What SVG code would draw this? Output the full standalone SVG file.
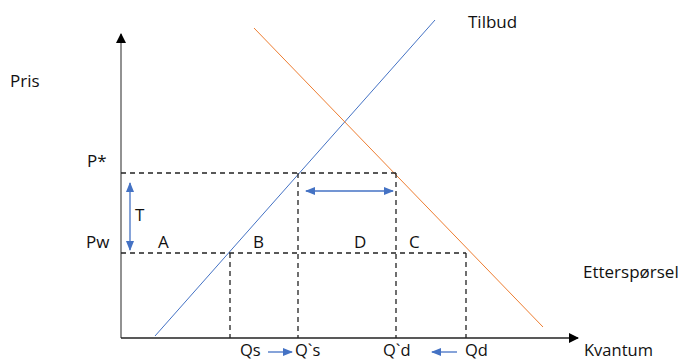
<svg xmlns="http://www.w3.org/2000/svg" width="688" height="362" viewBox="0 0 688 362">
<defs>
<marker id="ah" markerWidth="10" markerHeight="12" refX="9" refY="6" orient="auto" markerUnits="userSpaceOnUse"><path d="M0,1 L10,6 L0,11 Z" fill="#000"/></marker>
<marker id="bh" markerWidth="10" markerHeight="8" refX="9" refY="4" orient="auto-start-reverse" markerUnits="userSpaceOnUse"><path d="M0,0 L10,4 L0,8 Z" fill="#4472C4"/></marker>
<style>
text{font-family:"Open Sans","Liberation Sans",sans-serif;font-size:17px;fill:#111}
.s{font-size:16.5px}
.d{stroke:#222;stroke-width:1.3;stroke-dasharray:5,4;fill:none}
.b{stroke:#4472C4;stroke-width:1.3;fill:none}
</style>
</defs>
<rect width="688" height="362" fill="#fff"/>
<g id="axes">
<line x1="121" y1="338" x2="121" y2="34" stroke="#777" stroke-width="1.6" marker-end="url(#ah)"/>
<line x1="121" y1="338" x2="578" y2="338" stroke="#222" stroke-width="1.3" marker-end="url(#ah)"/>
</g>
<g id="curves">
<line id="supply" x1="155" y1="336" x2="435" y2="20" stroke="#4472C4" stroke-width="1"/>
<line id="demand" x1="254" y1="28" x2="543" y2="327" stroke="#ED7D31" stroke-width="1"/>
</g>
<g id="connectors">
<path class="d" d="M121,173 H397 M121,253 H466 M230,253 V338 M298,173 V338 M396,173 V338 M466,253 V338"/>
<line class="b" x1="130" y1="183" x2="130" y2="250" marker-start="url(#bh)" marker-end="url(#bh)"/>
<line class="b" x1="306" y1="191" x2="393" y2="191" marker-start="url(#bh)" marker-end="url(#bh)"/>
<line class="b" x1="268" y1="352" x2="292" y2="352" marker-end="url(#bh)"/>
<line class="b" x1="457" y1="352" x2="432" y2="352" marker-end="url(#bh)"/>
</g>
<g id="labels">
<text x="10" y="87">Pris</text>
<text x="87" y="167">P*</text>
<text x="86" y="248">Pw</text>
<text x="135" y="221">T</text>
<text x="158" y="248">A</text>
<text x="253" y="248">B</text>
<text x="354" y="248">D</text>
<text x="409" y="248">C</text>
<text x="468" y="28">Tilbud</text>
<text x="583" y="278">Etterspørsel</text>
<text class="s" x="584" y="356">Kvantum</text>
<text class="s" x="240" y="356">Qs</text>
<text class="s" x="295" y="356">Q`s</text>
<text class="s" x="383" y="356">Q`d</text>
<text class="s" x="465" y="356">Qd</text>
</g>
</svg>
